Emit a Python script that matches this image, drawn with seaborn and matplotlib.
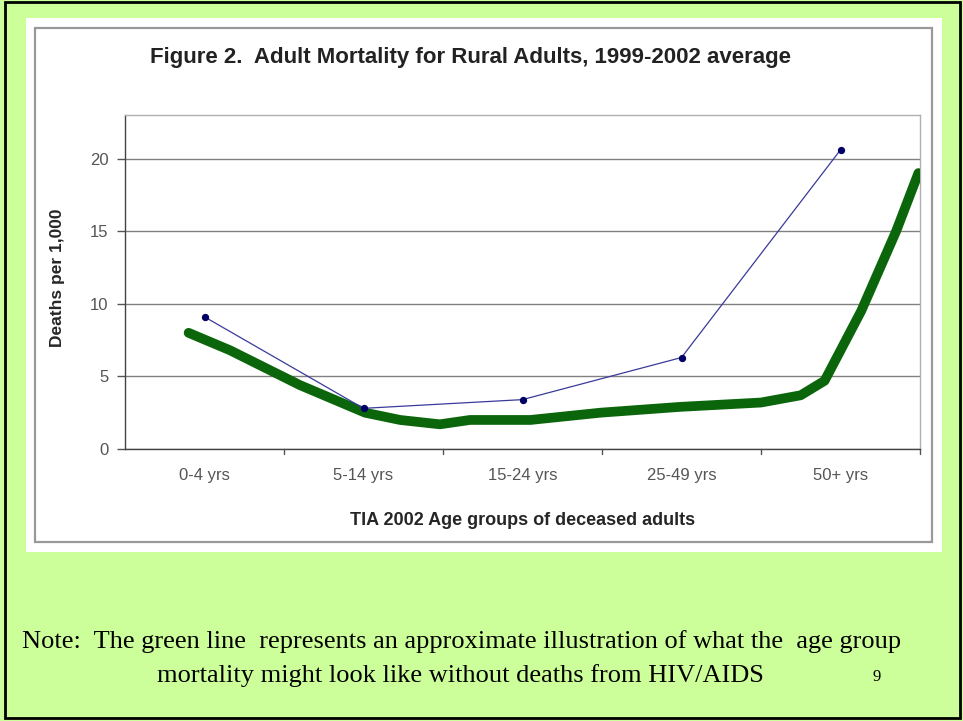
import matplotlib
matplotlib.use("Agg")
import matplotlib.pyplot as plt
from matplotlib.patches import Rectangle
import seaborn as sns
import pandas as pd

# Age groups and observed mortality (deaths per 1,000), 1999-2002 average
age_groups = ["0-4 yrs", "5-14 yrs", "15-24 yrs", "25-49 yrs", "50+ yrs"]
deaths_per_1000 = [9.1, 2.8, 3.4, 6.3, 20.6]

# Hand-sketched curve: approximate mortality without HIV/AIDS deaths
sketch_pos = [-0.10, 0.16, 0.60, 1.01, 1.23, 1.48, 1.67, 2.05, 2.49, 2.99,
              3.50, 3.75, 3.90, 4.13, 4.35, 4.49]
sketch_val = [8.0, 6.8, 4.4, 2.5, 2.0, 1.7, 2.0, 2.0, 2.5, 2.9,
              3.2, 3.7, 4.7, 9.5, 15.0, 19.0]

y_ticks = [0, 5, 10, 15, 20]

observed = pd.DataFrame({"pos": range(len(age_groups)), "deaths": deaths_per_1000})
sketch = pd.DataFrame({"pos": sketch_pos, "deaths": sketch_val})

sns.set_theme(style="white")
plt.rcParams["font.family"] = ["Liberation Sans", "DejaVu Sans"]

W, H = 963, 721
fig = plt.figure(figsize=(W / 100, H / 100), dpi=100)
fig.patch.set_facecolor("#CCFF99")


def px_rect(x0, y0, x1, y1, **kw):
    """Rectangle given in pixel coordinates measured from the top-left corner."""
    return Rectangle((x0 / W, 1 - y1 / H), (x1 - x0) / W, (y1 - y0) / H,
                     transform=fig.transFigure, **kw)


# slide frame
fig.add_artist(px_rect(5, 2, 960, 718, fill=False, edgecolor="black", linewidth=2))
# white chart panel with its inner grey border
fig.add_artist(px_rect(26, 18, 942, 552, facecolor="white", edgecolor="none", zorder=0))
fig.add_artist(px_rect(35, 28, 932, 542, fill=False, edgecolor="#999999",
                       linewidth=1.6, zorder=1))

ax = fig.add_axes([125 / W, 1 - 449 / H, (920 - 125) / W, (449 - 115) / H])
ax.set_facecolor("white")

sns.lineplot(data=sketch, x="pos", y="deaths", ax=ax, color="#0b660b",
             linewidth=7, solid_capstyle="round", sort=False, zorder=3)
sns.lineplot(data=observed, x="pos", y="deaths", ax=ax, color="#3a3a9a",
             linewidth=0.9, marker="o", markersize=4.5, markerfacecolor="#000066",
             markeredgecolor="#000066", zorder=4)

ax.set_xlim(-0.5, 4.5)
ax.set_ylim(0, 23)
ax.set_yticks(y_ticks)
ax.set_yticklabels([str(v) for v in y_ticks], fontsize=12, color="#555555")
ax.set_xticks(range(len(age_groups)))
ax.set_xticklabels(age_groups, fontsize=12, color="#555555")
ax.tick_params(axis="x", length=0, pad=14)
ax.tick_params(axis="y", length=6, width=1, color="#555555", direction="out", pad=6, left=True)
# category boundary ticks below the x axis
for b in [0.5, 1.5, 2.5, 3.5, 4.5]:
    ax.plot([b, b], [0, -0.35], color="#555555", linewidth=1, clip_on=False)

ax.grid(axis="y", color="#808080", linewidth=1)
ax.set_axisbelow(True)
for side in ["left", "bottom"]:
    ax.spines[side].set_color("#444444")
    ax.spines[side].set_linewidth(1)
for side in ["top", "right"]:
    ax.spines[side].set_color("#b0b0b0")
    ax.spines[side].set_linewidth(1)

ax.set_xlabel("TIA 2002 Age groups of deceased adults", fontsize=13,
              fontweight="bold")
ax.xaxis.set_label_coords(0.5, -(512 - 449) / (449 - 115))
ax.set_ylabel("Deaths per 1,000", fontsize=12.5, fontweight="bold")
ax.yaxis.set_label_coords(-(125 - 65) / (920 - 125), (449 - 278) / (449 - 115))

fig.text(470 / W, 1 - 57 / H, "Figure 2.  Adult Mortality for Rural Adults, 1999-2002 average",
         ha="center", va="center", fontsize=16, fontweight="bold", color="#222222")

serif = ["Liberation Serif", "DejaVu Serif"]
fig.text(22 / W, 1 - 648 / H,
         "Note:  The green line  represents an approximate illustration of what the  age group",
         ha="left", va="baseline", fontsize=19, family=serif, color="black")
fig.text(157 / W, 1 - 682 / H,
         "mortality might look like without deaths from HIV/AIDS",
         ha="left", va="baseline", fontsize=19, family=serif, color="black")
fig.text(877 / W, 1 - 681 / H, "9", ha="center", va="baseline", fontsize=12,
         family=serif, color="black")

fig.savefig("out.png", dpi=100, facecolor=fig.get_facecolor())
